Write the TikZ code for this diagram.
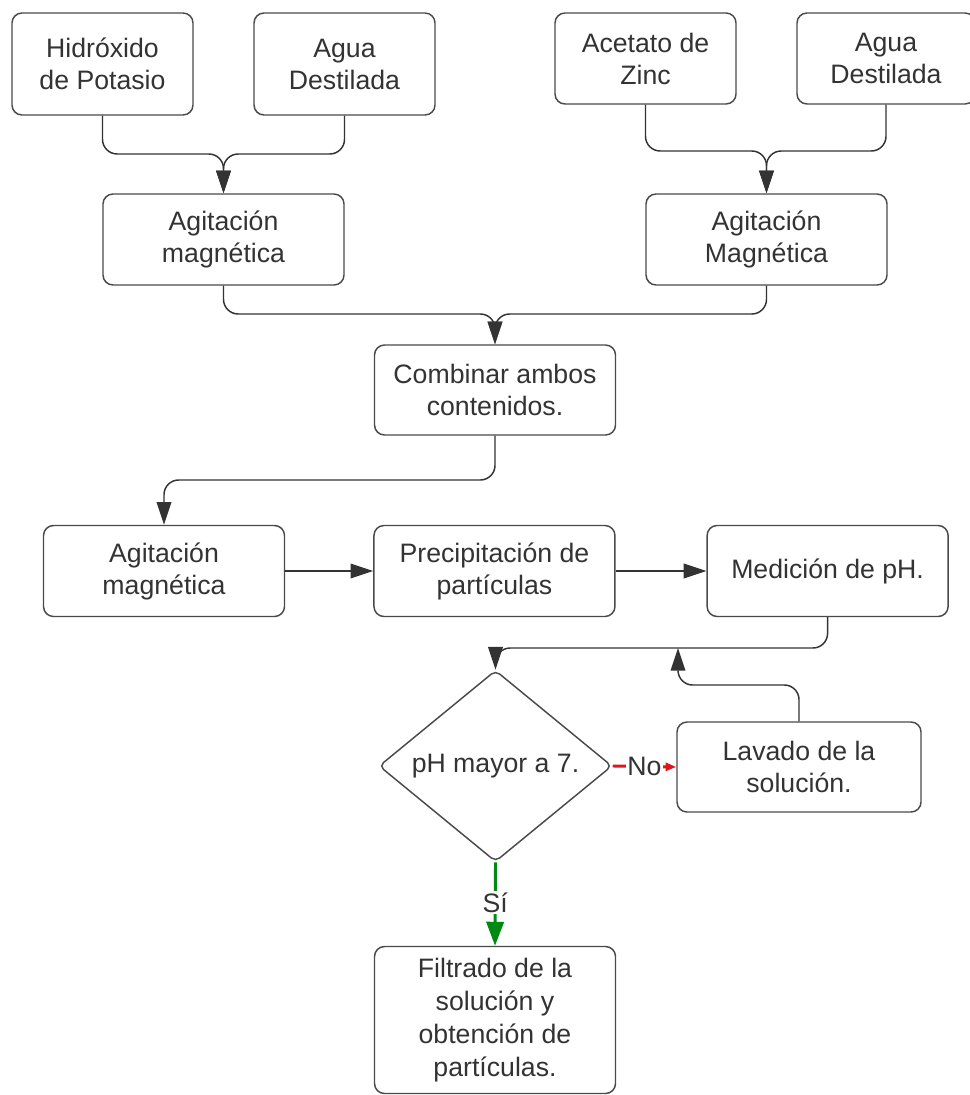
\documentclass[tikz,border=0pt]{standalone}
\usepackage{fontspec}
\setmainfont{Liberation Sans}
\usetikzlibrary{arrows.meta,positioning,shapes.geometric}
\definecolor{lnc}{HTML}{333333}
\definecolor{bdc}{HTML}{4A4A4A}
\definecolor{sigreen}{HTML}{008A12}
\definecolor{nored}{HTML}{E0141A}

\begin{document}
\begin{tikzpicture}[x=0.75pt, y=-0.75pt, >=Latex,
  font=\fontsize{20}{24}\selectfont, text=lnc,
  box/.style={draw=bdc, line width=1.1pt, rounded corners=7.5pt, align=center, inner sep=2pt,
    minimum width=180.75pt, minimum height=68.25pt, fill=white},
  inbox/.style={box, minimum width=135.75pt},
  cond/.style={draw=bdc, line width=1.1pt, diamond, rounded corners=4pt, align=center, inner sep=0pt,
    minimum width=174.75pt, minimum height=129pt},
  arr/.style={draw=lnc, line width=1.1pt, rounded corners=11pt, -{Triangle[length=17pt, width=11pt]}},
  yes/.style={draw=sigreen, line width=2.2pt, -{Triangle[length=18pt, width=13pt]}},
  no/.style={draw=nored, line width=2.2pt, -{Triangle[length=8pt, width=6pt]}},
  lbl/.style={fill=white, inner sep=1pt, text=lnc}]
\useasboundingbox (0,0) rectangle (970,1095);
% ---------------- reactivos
\node[inbox, minimum height=76.5pt] (hid) at (102.5,64) {Hidróxido\\ de Potasio};
\node[inbox, minimum height=76.5pt] (agua1) at (344.5,64) {Agua\\ Destilada};
\node[inbox] (acet) at (645.5,58.5) {Acetato de\\ Zinc};
\node[inbox, minimum width=133.5pt] (agua2) at (886,58.5) {Agua\\ Destilada};
% ---------------- agitacion y mezcla
\node[box] (agit1) at (223.5,239.5) {Agitación\\ magnética};
\node[box] (agit2) at (766.5,239.5) {Agitación\\ Magnética};
\node[box, minimum height=67.5pt] (comb) at (495,390) {Combinar ambos\\ contenidos.};
\node[box] (agit3) at (164,571) {Agitación\\ magnética};
\node[box, right=66pt of agit3] (prec) {Precipitación de\\ partículas};
\node[box, right=68pt of prec] (med) {Medición de pH.};
% ---------------- control de pH
\node[cond] (dec) at (495.5,766) {pH mayor a 7.};
\node[box, minimum width=183pt, minimum height=67.5pt] (lav) at (799,767) {Lavado de la\\ solución.};
\node[box, minimum height=110.25pt, font=\fontsize{20}{24.6}\selectfont] (fil) at (495,1020) {Filtrado de la\\ solución y\\ obtención de\\ partículas.};
% ---------------- conectores
\coordinate (j1) at (agit1.north |- 0,154);
\coordinate (j2) at (agit2.north |- 0,151);
\coordinate (j3) at (comb.north |- 0,314);
\coordinate (j4) at (agit3.north |- 0,480);
\coordinate (j5) at (dec.north |- 0,648);
\coordinate (j6) at (678,685);
\coordinate (j7) at (678,648);
\draw[arr] (hid.south) |- (j1) -- (agit1.north);
\draw[arr] (agua1.south) |- (j1) -- (agit1.north);
\draw[arr] (acet.south) |- (j2) -- (agit2.north);
\draw[arr] (agua2.south) |- (j2) -- (agit2.north);
\draw[arr] (agit1.south) |- (j3) -- (comb.north);
\draw[arr] (agit2.south) |- (j3) -- (comb.north);
\draw[arr] (comb.south) |- (j4) -- (agit3.north);
\draw[arr] (agit3) -- (prec);
\draw[arr] (prec) -- (med);
\draw[arr] (med.south) |- (j5) -- (dec.north);
\draw[arr] (lav.north) |- (j6) -- (j7);
\draw[no] (dec.east) -- (lav.west) node[midway, lbl] {No};
\draw[yes] (dec.south) -- (fil.north) node[pos=0.48, lbl] {Sí};
\end{tikzpicture}
\end{document}
